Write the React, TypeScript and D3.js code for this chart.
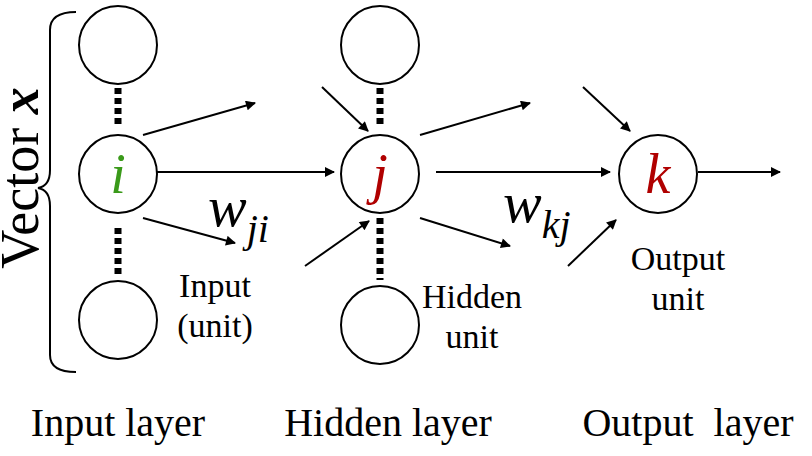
import * as d3 from "d3";

const nodes = [
  { x: 118, y: 45, label: "", color: "#000" },
  { x: 118, y: 174, label: "i", color: "#3a9a1a" },
  { x: 118, y: 320, label: "", color: "#000" },
  { x: 380, y: 45, label: "", color: "#000" },
  { x: 380, y: 174, label: "j", color: "#b00000" },
  { x: 380, y: 325, label: "", color: "#000" },
  { x: 658, y: 174, label: "k", color: "#b00000" },
];
const dots = [
  [118, 88, 126],
  [118, 228, 276],
  [380, 88, 128],
  [380, 218, 280],
];
const arrows = [
  [143, 135, 255, 103],
  [156, 172, 334, 172],
  [143, 218, 235, 243],
  [322, 87, 368, 131],
  [305, 266, 369, 221],
  [420, 135, 530, 103],
  [436, 172, 610, 172],
  [420, 218, 510, 246],
  [583, 87, 630, 131],
  [568, 266, 616, 220],
  [698, 172, 780, 172],
];
const labels = [
  { x: 215, y: 297, lines: ["Input", "(unit)"] },
  { x: 472, y: 308, lines: ["Hidden", "unit"] },
  { x: 678, y: 270, lines: ["Output", "unit"] },
];
const layers = [
  { x: 118, t: "Input layer" },
  { x: 388, t: "Hidden layer" },
  { x: 688, t: "Output\u00a0\u00a0layer" },
];

const font = "'Liberation Serif', 'DejaVu Serif', serif";

export default function App() {
  const brace = d3.path();
  brace.moveTo(76, 12);
  brace.quadraticCurveTo(50, 12, 50, 30);
  brace.lineTo(50, 170);
  brace.quadraticCurveTo(50, 186, 38, 188);
  brace.quadraticCurveTo(50, 190, 50, 206);
  brace.lineTo(50, 355);
  brace.quadraticCurveTo(50, 372, 76, 372);
  return (
    <svg width={812} height={456} style={{ position: "absolute", left: 0, top: 0, background: "#fff" }} fontFamily={font}>
      <defs>
        <marker id="ah" viewBox="0 0 10 10" refX={9} refY={5} markerWidth={14} markerHeight={10} markerUnits="userSpaceOnUse" orient="auto">
          <path d="M0,0 L10,5 L0,10 Z" fill="#000" />
        </marker>
      </defs>
      <path d={brace.toString()} fill="none" stroke="#000" strokeWidth={2} />
      <text transform="translate(38,178) rotate(-90)" textAnchor="middle" fontSize={54}>
        Vector <tspan fontStyle="italic" fontWeight="bold">x</tspan>
      </text>
      {dots.map(([x, y0, y1], i) => (
        <line key={i} x1={x} x2={x} y1={y0} y2={y1} stroke="#000" strokeWidth={7} strokeDasharray="6 4" />
      ))}
      {arrows.map(([x1, y1, x2, y2], i) => (
        <line key={i} x1={x1} y1={y1} x2={x2} y2={y2} stroke="#000" strokeWidth={2} markerEnd="url(#ah)" />
      ))}
      {nodes.map((n, i) => (
        <g key={i}>
          <circle cx={n.x} cy={n.y} r={39} fill="#fff" stroke="#000" strokeWidth={2} />
          {n.label && (
            <text x={n.x} y={n.y + 19} textAnchor="middle" fontSize={56} fontStyle="italic" fill={n.color}>{n.label}</text>
          )}
        </g>
      ))}
      <text x={208} y={226} fontSize={58} fontStyle="italic">w<tspan fontSize={40} dy={16}>ji</tspan></text>
      <text x={503} y={222} fontSize={58} fontStyle="italic">w<tspan fontSize={40} dy={16}>kj</tspan></text>
      {labels.map((l, i) => (
        <text key={i} x={l.x} y={l.y} textAnchor="middle" fontSize={34}>
          {l.lines.map((s, j) => (
            <tspan key={j} x={l.x} dy={j === 0 ? 0 : 40}>{s}</tspan>
          ))}
        </text>
      ))}
      {layers.map((l, i) => (
        <text key={i} x={l.x} y={436} textAnchor="middle" fontSize={40}>{l.t}</text>
      ))}
    </svg>
  );
}
